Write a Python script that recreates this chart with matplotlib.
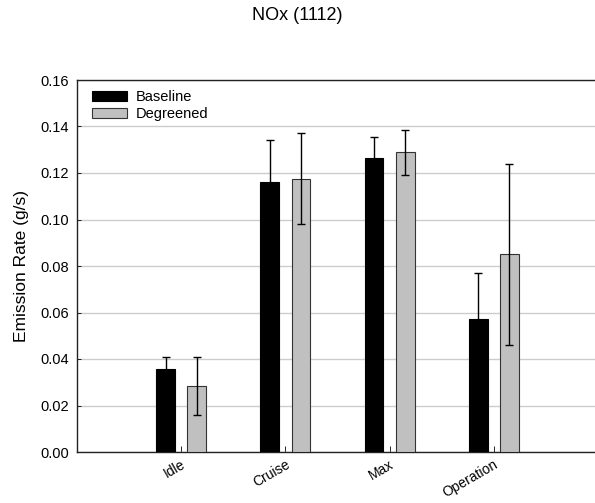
import numpy as np
import matplotlib.pyplot as plt

plt.rcParams['font.family'] = ['Liberation Sans', 'DejaVu Sans']

# Data
modes = ['Idle', 'Cruise', 'Max', 'Operation']
baseline = [0.0355, 0.116, 0.1265, 0.057]
baseline_err = [0.0055, 0.018, 0.009, 0.020]
degreened = [0.0285, 0.1175, 0.129, 0.085]
degreened_err = [0.0125, 0.0195, 0.0097, 0.039]

fig = plt.figure(figsize=(5.95, 5.03), dpi=100)
ax = fig.add_axes([77 / 595, 1 - 452 / 503, 521 / 595, 372 / 503])

x = np.arange(1, len(modes) + 1)
w = 0.18
off = 0.15

ax.bar(x - off, baseline, w, color='black', edgecolor='black', linewidth=0.8,
       label='Baseline', zorder=3)
ax.bar(x + off, degreened, w, color='#c0c0c0', edgecolor='#333333', linewidth=0.8,
       label='Degreened', zorder=3)
ax.errorbar(x - off, baseline, yerr=baseline_err, fmt='none', ecolor='black',
            elinewidth=1, capsize=3, capthick=1, zorder=4)
ax.errorbar(x + off, degreened, yerr=degreened_err, fmt='none', ecolor='black',
            elinewidth=1, capsize=3, capthick=1, zorder=4)

ax.set_xlim(0, 5)
ax.set_ylim(0, 0.16)
yt = np.arange(0, 0.161, 0.02)
ax.set_yticks(yt)
ax.set_yticklabels([f'{v:.2f}' for v in yt], fontsize=10.5)
ax.set_xticks(x)
ax.set_xticklabels(modes, rotation=30, ha='right', rotation_mode='anchor', fontsize=10)
ax.tick_params(axis='x', direction='in', length=4, width=0.6, pad=4)
ax.tick_params(axis='y', direction='in', length=3, width=0.6, pad=6)
ax.yaxis.grid(True, color='#cccccc', linewidth=1, zorder=0)
ax.set_axisbelow(True)
ax.spines['right'].set_visible(False)
for s in ax.spines.values():
    s.set_linewidth(1)
    s.set_color('#222222')

ax.set_ylabel('Emission Rate (g/s)', fontsize=12.5, labelpad=8)
fig.text(0.5, 1 - 16 / 503, 'NOx (1112)', ha='center', va='center', fontsize=13)

ax.legend(loc='upper left', frameon=False, fontsize=10.5, handlelength=2.4,
          handleheight=0.75, borderaxespad=0.3, labelspacing=0.2,
          handletextpad=0.6, bbox_to_anchor=(0.01, 1.0))

fig.savefig('out.png', dpi=100)
